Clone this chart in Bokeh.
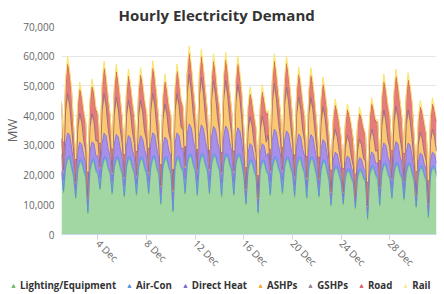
import math
import numpy as np
import pandas as pd
from bokeh.plotting import figure
from bokeh.layouts import column
from bokeh.models import (ColumnDataSource, Legend, LegendItem, FixedTicker, Title,
                          NumeralTickFormatter, DatetimeTickFormatter, Range1d)
from bokeh.embed import file_html
from bokeh.resources import INLINE

series_names = ["Lighting/Equipment", "Air-Con", "Direct Heat", "ASHPs", "GSHPs", "Road", "Rail"]
series_keys = ["lighting", "aircon", "direct", "ashp", "gshp", "road", "rail"]
start_time = "2023-12-01 00:00"
tick_days = [4, 8, 12, 16, 20, 24, 28]
y_ticks = [0, 10000, 20000, 30000, 40000, 50000, 60000, 70000]

# values in thousands of MW, 4-hourly samples (00,04,08,12,16,20) per day, 1..31 Dec
lighting = [
    20.5, 14.0, 22.0, 25.0, 25.5, 22.0,
    19.0, 12.0, 21.0, 24.0, 24.0, 21.0,
    19.0, 7.0, 21.0, 24.0, 24.5, 21.0,
    20.0, 15.0, 22.0, 25.0, 25.0, 22.0,
    20.0, 13.5, 22.0, 25.0, 25.0, 22.0,
    20.0, 12.5, 22.0, 25.0, 25.0, 22.0,
    20.0, 13.0, 22.0, 25.0, 25.0, 22.0,
    20.0, 13.5, 22.0, 25.0, 25.5, 22.0,
    20.0, 10.0, 22.0, 25.0, 25.0, 22.0,
    20.0, 7.5, 22.0, 25.0, 25.0, 22.0,
    21.0, 13.5, 23.0, 26.0, 26.0, 23.0,
    21.0, 13.0, 23.0, 26.0, 26.0, 23.0,
    21.0, 13.5, 23.0, 26.0, 26.0, 23.0,
    21.0, 12.5, 23.0, 26.0, 26.0, 23.0,
    21.0, 13.0, 23.0, 26.0, 26.0, 23.0,
    19.0, 10.0, 21.0, 24.0, 24.0, 21.0,
    19.0, 7.0, 21.0, 24.0, 24.0, 21.0,
    20.0, 13.0, 22.0, 25.0, 25.0, 22.0,
    20.0, 13.5, 22.0, 25.0, 25.0, 22.0,
    20.0, 12.5, 22.0, 25.0, 25.0, 22.0,
    20.0, 12.0, 22.0, 25.0, 25.0, 22.0,
    19.0, 12.5, 21.0, 24.0, 24.0, 21.0,
    17.5, 9.5, 19.5, 22.0, 22.0, 19.5,
    17.0, 10.0, 18.5, 21.0, 21.0, 18.5,
    17.0, 8.5, 18.5, 21.0, 21.0, 18.5,
    17.5, 5.0, 19.5, 22.0, 22.0, 19.5,
    18.5, 9.5, 20.0, 23.0, 23.0, 20.0,
    18.5, 12.0, 20.0, 23.0, 23.0, 20.0,
    18.5, 11.5, 20.0, 23.0, 23.0, 20.0,
    17.5, 9.0, 19.5, 22.0, 22.0, 19.5,
    17.5, 5.5, 19.5, 22.0, 22.0, 19.5,
]

aircon = [
    0.8, 0.6, 0.9, 1.0, 1.0, 0.9,
    0.8, 0.5, 0.9, 1.1, 1.0, 0.8,
    0.8, 0.6, 0.9, 1.0, 1.0, 0.9,
    0.8, 0.5, 0.9, 1.1, 1.0, 0.8,
    0.8, 0.6, 0.9, 1.0, 1.0, 0.9,
    0.8, 0.5, 0.9, 1.1, 1.0, 0.8,
    0.8, 0.6, 0.9, 1.0, 1.0, 0.9,
    0.8, 0.5, 0.9, 1.1, 1.0, 0.8,
    0.8, 0.6, 0.9, 1.0, 1.0, 0.9,
    0.8, 0.5, 0.9, 1.1, 1.0, 0.8,
    0.8, 0.6, 0.9, 1.0, 1.0, 0.9,
    0.8, 0.5, 0.9, 1.1, 1.0, 0.8,
    0.8, 0.6, 0.9, 1.0, 1.0, 0.9,
    0.8, 0.5, 0.9, 1.1, 1.0, 0.8,
    0.8, 0.6, 0.9, 1.0, 1.0, 0.9,
    0.8, 0.5, 0.9, 1.1, 1.0, 0.8,
    0.8, 0.6, 0.9, 1.0, 1.0, 0.9,
    0.8, 0.5, 0.9, 1.1, 1.0, 0.8,
    0.8, 0.6, 0.9, 1.0, 1.0, 0.9,
    0.8, 0.5, 0.9, 1.1, 1.0, 0.8,
    0.8, 0.6, 0.9, 1.0, 1.0, 0.9,
    0.8, 0.5, 0.9, 1.1, 1.0, 0.8,
    0.8, 0.6, 0.9, 1.0, 1.0, 0.9,
    0.8, 0.5, 0.9, 1.1, 1.0, 0.8,
    0.8, 0.6, 0.9, 1.0, 1.0, 0.9,
    0.8, 0.5, 0.9, 1.1, 1.0, 0.8,
    0.8, 0.6, 0.9, 1.0, 1.0, 0.9,
    0.8, 0.5, 0.9, 1.1, 1.0, 0.8,
    0.8, 0.6, 0.9, 1.0, 1.0, 0.9,
    0.8, 0.5, 0.9, 1.1, 1.0, 0.8,
    0.8, 0.6, 0.9, 1.0, 1.0, 0.9,
]

direct_heat = [
    5.7, 3.8, 7.6, 8.1, 7.1, 6.2,
    4.2, 2.8, 5.6, 6.0, 5.3, 4.6,
    4.3, 2.6, 5.7, 6.1, 5.2, 4.5,
    5.6, 3.9, 7.6, 8.0, 7.2, 6.1,
    5.4, 3.6, 7.2, 7.7, 6.8, 5.9,
    5.1, 3.4, 6.8, 7.2, 6.4, 5.5,
    5.2, 3.4, 6.9, 7.3, 6.3, 5.6,
    5.7, 3.8, 7.6, 8.1, 7.1, 6.2,
    4.8, 3.1, 6.4, 6.8, 6.0, 5.2,
    5.6, 3.7, 7.5, 8.1, 7.2, 6.2,
    7.2, 4.8, 9.6, 10.2, 9.0, 7.8,
    6.9, 4.6, 9.2, 9.8, 8.6, 7.5,
    6.6, 4.4, 8.8, 9.4, 8.3, 7.2,
    6.7, 4.3, 8.9, 9.4, 8.2, 7.1,
    6.3, 4.2, 8.4, 8.9, 7.9, 6.8,
    3.9, 2.6, 5.2, 5.5, 4.9, 4.2,
    4.0, 2.5, 5.3, 5.6, 4.8, 4.3,
    6.6, 4.4, 8.8, 9.4, 8.3, 7.2,
    6.3, 4.2, 8.4, 8.9, 7.9, 6.8,
    5.4, 3.6, 7.2, 7.7, 6.8, 5.9,
    5.5, 3.5, 7.3, 7.6, 6.7, 5.8,
    4.8, 3.2, 6.4, 6.8, 6.0, 5.2,
    3.3, 2.2, 4.4, 4.7, 4.1, 3.6,
    3.0, 2.0, 4.0, 4.3, 3.8, 3.3,
    2.7, 1.8, 3.6, 3.8, 3.4, 2.9,
    3.3, 2.2, 4.4, 4.7, 4.1, 3.6,
    4.8, 3.2, 6.4, 6.8, 6.0, 5.2,
    5.1, 3.4, 6.8, 7.2, 6.4, 5.5,
    4.8, 3.2, 6.4, 6.8, 6.0, 5.2,
    3.0, 2.0, 4.0, 4.3, 3.8, 3.3,
    3.3, 2.2, 4.4, 4.7, 4.1, 3.6,
]

ashps = [
    4.8, 2.9, 10.5, 12.4, 9.5, 6.7,
    3.5, 2.1, 7.7, 9.1, 7.0, 4.9,
    3.6, 2.0, 7.8, 9.0, 7.1, 4.8,
    4.7, 2.9, 10.4, 12.4, 9.6, 6.6,
    4.5, 2.7, 9.9, 11.7, 9.0, 6.3,
    4.3, 2.6, 9.4, 11.1, 8.5, 6.0,
    4.2, 2.6, 9.5, 11.0, 8.6, 5.9,
    4.8, 2.9, 10.5, 12.4, 9.5, 6.7,
    4.0, 2.4, 8.8, 10.4, 8.0, 5.6,
    4.7, 2.8, 10.4, 12.3, 9.5, 6.6,
    6.0, 3.6, 13.2, 15.6, 12.0, 8.4,
    5.8, 3.5, 12.7, 15.0, 11.5, 8.1,
    5.5, 3.3, 12.1, 14.3, 11.0, 7.7,
    5.6, 3.3, 12.2, 14.3, 10.9, 7.7,
    5.3, 3.2, 11.6, 13.7, 10.5, 7.4,
    3.3, 2.0, 7.2, 8.5, 6.5, 4.6,
    3.2, 1.9, 7.3, 8.6, 6.4, 4.6,
    5.5, 3.3, 12.1, 14.3, 11.0, 7.7,
    5.3, 3.2, 11.6, 13.7, 10.5, 7.4,
    4.5, 2.7, 9.9, 11.7, 9.0, 6.3,
    4.6, 2.7, 9.8, 11.7, 9.1, 6.2,
    4.0, 2.4, 8.8, 10.4, 8.0, 5.6,
    2.8, 1.7, 6.1, 7.2, 5.5, 3.9,
    2.5, 1.5, 5.5, 6.5, 5.0, 3.5,
    2.3, 1.4, 5.0, 5.9, 4.5, 3.2,
    2.8, 1.7, 6.1, 7.2, 5.5, 3.9,
    4.0, 2.4, 8.8, 10.4, 8.0, 5.6,
    4.3, 2.6, 9.4, 11.1, 8.5, 6.0,
    4.0, 2.4, 8.8, 10.4, 8.0, 5.6,
    2.5, 1.5, 5.5, 6.5, 5.0, 3.5,
    2.8, 1.7, 6.1, 7.2, 5.5, 3.9,
]

gshps = [
    0.5, 0.3, 0.8, 0.9, 0.8, 0.6,
    0.4, 0.2, 0.6, 0.6, 0.6, 0.4,
    0.4, 0.2, 0.6, 0.6, 0.6, 0.4,
    0.5, 0.3, 0.8, 0.9, 0.8, 0.6,
    0.5, 0.3, 0.7, 0.8, 0.7, 0.5,
    0.4, 0.3, 0.7, 0.8, 0.7, 0.5,
    0.4, 0.3, 0.7, 0.8, 0.7, 0.5,
    0.5, 0.3, 0.8, 0.9, 0.8, 0.6,
    0.4, 0.2, 0.6, 0.7, 0.6, 0.5,
    0.5, 0.3, 0.8, 0.9, 0.8, 0.6,
    0.6, 0.4, 1.0, 1.1, 1.0, 0.7,
    0.6, 0.3, 0.9, 1.0, 0.9, 0.7,
    0.6, 0.3, 0.9, 1.0, 0.9, 0.7,
    0.6, 0.3, 0.9, 1.0, 0.9, 0.7,
    0.5, 0.3, 0.8, 0.9, 0.8, 0.6,
    0.3, 0.2, 0.5, 0.6, 0.5, 0.4,
    0.3, 0.2, 0.5, 0.6, 0.5, 0.4,
    0.6, 0.3, 0.9, 1.0, 0.9, 0.7,
    0.5, 0.3, 0.8, 0.9, 0.8, 0.6,
    0.5, 0.3, 0.7, 0.8, 0.7, 0.5,
    0.5, 0.3, 0.7, 0.8, 0.7, 0.5,
    0.4, 0.2, 0.6, 0.7, 0.6, 0.5,
    0.3, 0.2, 0.4, 0.5, 0.4, 0.3,
    0.3, 0.2, 0.4, 0.5, 0.4, 0.3,
    0.2, 0.1, 0.4, 0.4, 0.4, 0.3,
    0.3, 0.2, 0.4, 0.5, 0.4, 0.3,
    0.4, 0.2, 0.6, 0.7, 0.6, 0.5,
    0.4, 0.3, 0.7, 0.8, 0.7, 0.5,
    0.4, 0.2, 0.6, 0.7, 0.6, 0.5,
    0.3, 0.2, 0.4, 0.5, 0.4, 0.3,
    0.3, 0.2, 0.4, 0.5, 0.4, 0.3,
]

road = [
    12.0, 9.3, 8.6, 10.0, 10.0, 11.4,
    8.0, 7.4, 6.9, 8.0, 8.0, 9.1,
    9.0, 8.4, 7.7, 9.0, 9.0, 10.3,
    8.5, 7.9, 7.3, 8.5, 8.5, 9.7,
    8.4, 7.9, 7.4, 8.5, 8.6, 9.6,
    8.0, 7.4, 6.9, 8.0, 8.0, 9.1,
    8.5, 7.9, 7.3, 8.5, 8.5, 9.7,
    8.6, 7.8, 7.3, 8.5, 8.4, 9.7,
    7.5, 7.0, 6.5, 7.5, 7.5, 8.6,
    7.6, 6.9, 6.5, 7.5, 7.6, 8.5,
    7.0, 6.5, 6.0, 7.0, 7.0, 8.0,
    7.1, 6.5, 6.0, 7.0, 7.1, 7.9,
    6.5, 6.0, 5.6, 6.5, 6.5, 7.4,
    7.0, 6.5, 6.0, 7.0, 7.0, 8.0,
    7.0, 6.6, 6.0, 7.0, 6.9, 8.0,
    7.5, 7.0, 6.5, 7.5, 7.5, 8.6,
    8.0, 7.4, 6.9, 8.0, 8.0, 9.1,
    7.5, 7.0, 6.5, 7.5, 7.5, 8.6,
    8.0, 7.4, 6.9, 8.0, 8.0, 9.1,
    7.5, 7.0, 6.5, 7.5, 7.5, 8.6,
    7.6, 7.0, 6.4, 7.5, 7.6, 8.5,
    7.5, 7.0, 6.5, 7.5, 7.5, 8.6,
    8.0, 7.4, 6.9, 8.0, 8.0, 9.1,
    8.5, 7.9, 7.3, 8.5, 8.5, 9.7,
    8.4, 7.9, 7.3, 8.5, 8.6, 9.6,
    8.5, 7.9, 7.3, 8.5, 8.5, 9.7,
    9.5, 8.8, 8.2, 9.5, 9.5, 10.8,
    10.0, 9.3, 8.6, 10.0, 10.0, 11.4,
    10.1, 9.2, 8.6, 10.0, 10.1, 11.3,
    8.5, 7.9, 7.3, 8.5, 8.5, 9.7,
    8.6, 7.8, 7.3, 8.5, 8.4, 9.7,
]

rail = [
    0.7, 0.4, 1.5, 2.6, 1.6, 1.0,
    0.7, 0.4, 1.6, 2.5, 1.5, 1.0,
    0.7, 0.4, 1.5, 2.6, 1.6, 1.0,
    0.7, 0.4, 1.6, 2.5, 1.5, 1.0,
    0.7, 0.4, 1.5, 2.6, 1.6, 1.0,
    0.7, 0.4, 1.6, 2.5, 1.5, 1.0,
    0.7, 0.4, 1.5, 2.6, 1.6, 1.0,
    0.7, 0.4, 1.6, 2.5, 1.5, 1.0,
    0.7, 0.4, 1.5, 2.6, 1.6, 1.0,
    0.7, 0.4, 1.6, 2.5, 1.5, 1.0,
    0.7, 0.4, 1.5, 2.6, 1.6, 1.0,
    0.7, 0.4, 1.6, 2.5, 1.5, 1.0,
    0.7, 0.4, 1.5, 2.6, 1.6, 1.0,
    0.7, 0.4, 1.6, 2.5, 1.5, 1.0,
    0.7, 0.4, 1.5, 2.6, 1.6, 1.0,
    0.7, 0.4, 1.6, 2.5, 1.5, 1.0,
    0.7, 0.4, 1.5, 2.6, 1.6, 1.0,
    0.7, 0.4, 1.6, 2.5, 1.5, 1.0,
    0.7, 0.4, 1.5, 2.6, 1.6, 1.0,
    0.7, 0.4, 1.6, 2.5, 1.5, 1.0,
    0.7, 0.4, 1.5, 2.6, 1.6, 1.0,
    0.7, 0.4, 1.6, 2.5, 1.5, 1.0,
    0.6, 0.3, 1.2, 2.2, 1.3, 0.9,
    0.6, 0.3, 1.2, 2.1, 1.3, 0.9,
    0.6, 0.3, 1.2, 2.2, 1.3, 0.9,
    0.6, 0.3, 1.2, 2.1, 1.3, 0.9,
    0.7, 0.4, 1.5, 2.6, 1.6, 1.0,
    0.7, 0.4, 1.6, 2.5, 1.5, 1.0,
    0.7, 0.4, 1.5, 2.6, 1.6, 1.0,
    0.6, 0.3, 1.2, 2.2, 1.3, 0.9,
    0.6, 0.3, 1.2, 2.1, 1.3, 0.9,
]

fill_colors = ["#a2d6a2", "#7aa6ee", "#a690ea", "#fac872", "#b48aa6", "#e57c7c", "#fff29a"]
line_colors = ["#7cc47c", "#5f8fe6", "#8c74dc", "#f2b04a", "#9c6c8c", "#d86060", "#f8e46a"]
marker_colors = ["#6cbc6c", "#5b96e8", "#7e6ad4", "#f0b040", "#9a8496", "#e06464", "#f3efa0"]

times = pd.date_range(start_time, periods=len(lighting), freq="4h")
data = {"t": times}
for key, arr in zip(series_keys, [lighting, aircon, direct_heat, ashps, gshps, road, rail]):
    data[key] = np.array(arr) * 1000.0
source = ColumnDataSource(data)

p = figure(width=444, height=276, x_axis_type="datetime", output_backend="svg",
           toolbar_location=None, title="Hourly Electricity Demand",
           min_border_left=60, min_border_right=8, min_border_top=25, min_border_bottom=39)
p.x_range = Range1d(times[0], times[-1])
p.y_range = Range1d(0, 70000)

p.varea_stack(series_keys, x="t", source=source, color=fill_colors, fill_alpha=1.0)
p.vline_stack(series_keys, x="t", source=source, color=line_colors, line_width=1)

p.title.align = "left"
p.title.offset = 57
p.title.text_font = "Open Sans"
p.title.text_font_size = "15px"
p.title.text_font_style = "bold"
p.title.text_color = "#333333"
p.title.standoff = 4

# y-axis title as a side title so it sits close to the tick labels
p.add_layout(Title(text="MW", align="center", text_font="Open Sans", text_font_size="13px",
                   text_font_style="normal", text_color="#666666", standoff=0), "left")

tick_ms = [pd.Timestamp(2023, 12, d).value // 10**6 for d in tick_days]
p.xaxis.ticker = FixedTicker(ticks=tick_ms)
p.xaxis.formatter = DatetimeTickFormatter(days="%-d %b", months="%-d %b", hours="%-d %b")
p.xaxis.major_label_orientation = -math.pi / 4
p.xaxis.axis_line_color = "#ccd6eb"
p.xaxis.major_tick_line_color = "#ccd6eb"
p.xaxis.major_tick_out = 5
p.xaxis.major_tick_in = 0
p.xaxis.minor_tick_line_color = None
p.xaxis.minor_tick_out = 0
p.xaxis.major_label_text_font = "Open Sans"
p.xaxis.major_label_text_font_size = "10px"
p.xaxis.major_label_text_color = "#666666"
p.xaxis.major_label_standoff = 2

p.yaxis.ticker = FixedTicker(ticks=y_ticks)
p.yaxis.formatter = NumeralTickFormatter(format="0,0")
p.yaxis.axis_line_color = None
p.yaxis.major_tick_line_color = None
p.yaxis.minor_tick_line_color = None
p.yaxis.major_tick_out = 0
p.yaxis.major_tick_in = 0
p.yaxis.minor_tick_out = 0
p.yaxis.major_label_text_font = "Open Sans"
p.yaxis.major_label_text_font_size = "10px"
p.yaxis.major_label_text_color = "#666666"
p.yaxis.major_label_standoff = 7

p.xgrid.visible = False
p.ygrid.grid_line_color = "#e6e6e6"
p.outline_line_color = None
p.background_fill_color = "white"
p.border_fill_color = "white"

# legend strip beneath the chart
lg = figure(width=444, height=18, output_backend="svg", toolbar_location=None,
            x_range=Range1d(0, 1), y_range=Range1d(0, 1),
            x_axis_location=None, y_axis_location=None, min_border=0)
lg.xgrid.visible = False
lg.ygrid.visible = False
lg.outline_line_color = None
lg.border_fill_color = "white"
for fig in (p, lg):
    if "frame_align" in fig.properties():
        fig.frame_align = False
items = []
for name, col in zip(series_names, marker_colors):
    r = lg.scatter(x=[-5], y=[-5], marker="triangle", size=8, color=col)
    items.append(LegendItem(label=name, renderers=[r]))
legend = Legend(items=items, orientation="horizontal", location=(9, 2),
                label_text_font="Open Sans", label_text_font_size="9.7px",
                label_text_font_style="bold", label_text_color="#333333",
                glyph_width=8, glyph_height=10, label_standoff=3, spacing=9,
                padding=0, margin=0, border_line_color=None, background_fill_alpha=0)
lg.add_layout(legend)

layout = column(p, lg, spacing=0)
open("out.html", "w").write(file_html(layout, INLINE))
